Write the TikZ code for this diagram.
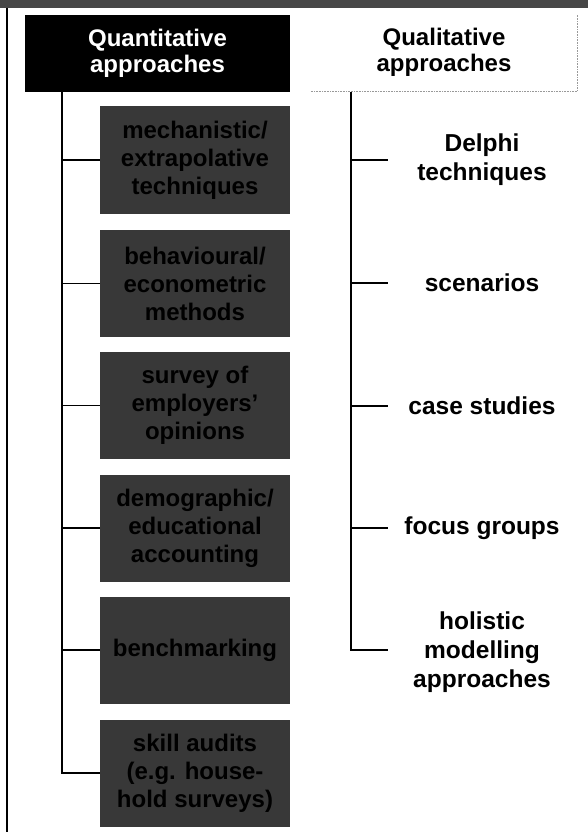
\documentclass[tikz,border=0pt]{standalone}
\usepackage{fontspec}
\setmainfont{Liberation Sans}
\begin{document}
\begin{tikzpicture}[x=1pt,y=-1pt,
  lbl/.style={font=\bfseries\fontsize{24}{28}\selectfont, align=center, inner sep=0pt},
  headbox/.style={lbl, font=\bfseries\fontsize{24}{26.5}\selectfont, minimum height=77pt},
  methodbox/.style={lbl, fill=black!78, text=black, minimum width=190pt, minimum height=107pt},
  qualitem/.style={lbl, font=\bfseries\fontsize{24.5}{29}\selectfont},
  link/.style={line width=1.5pt, black},
]
\useasboundingbox (0,0) rectangle (588,832);

% top band and left frame rule
\fill[black!72] (0,0) rectangle (588,8);
\draw[line width=1.3pt] (7,8) -- (7,832);

% column headings
\node[headbox, fill=black, text=white, minimum width=265pt] (quant) at (157.5,53.5) {Quantitative\\approaches};
\node[headbox, minimum width=266pt] (qual) at (444,52.5) {Qualitative\\approaches};
\draw[densely dotted, black!40, line width=0.6pt] (qual.south west) -- (qual.south east) -- (qual.north east);

% quantitative methods
\node[methodbox] (m1) at (195,160)   {mechanistic/\\extrapolative\\techniques};
\node[methodbox] (m2) at (195,283.5) {behavioural/\\econometric\\methods};
\node[methodbox] (m3) at (195,405.5) {survey of\\employers'\\opinions};
\node[methodbox] (m4) at (195,528)   {demographic/\\educational\\accounting};
\node[methodbox] (m5) at (195,650)   {benchmarking};
\node[methodbox] (m6) at (195,773)   {skill audits\\(e.g. house-\\hold surveys)};

\coordinate (ltop) at (62,92);
\draw[link] (ltop) |- (m6.west);
\foreach \m in {m1,m2,m3,m4,m5}
  \draw[link] (\m.west -| ltop) -- (\m.west);

% qualitative methods
\node[qualitem] (q1) at (482,160) {Delphi\\techniques};
\node[qualitem] (q2) at (482,283) {scenarios};
\node[qualitem] (q3) at (482,406) {case studies};
\node[qualitem] (q4) at (482,528) {focus groups};
\node[qualitem] (q5) at (482,652) {holistic\\modelling\\approaches};

\coordinate (rtop) at (351,92);
\foreach \q in {q1,q2,q3,q4}
  \coordinate (\q e) at (388,0 |- \q.center);
\coordinate (q5e) at (388,650);
\draw[link] (rtop) |- (q5e);
\foreach \q in {q1,q2,q3,q4}
  \draw[link] (\q e -| rtop) -- (\q e);
\end{tikzpicture}
\end{document}
